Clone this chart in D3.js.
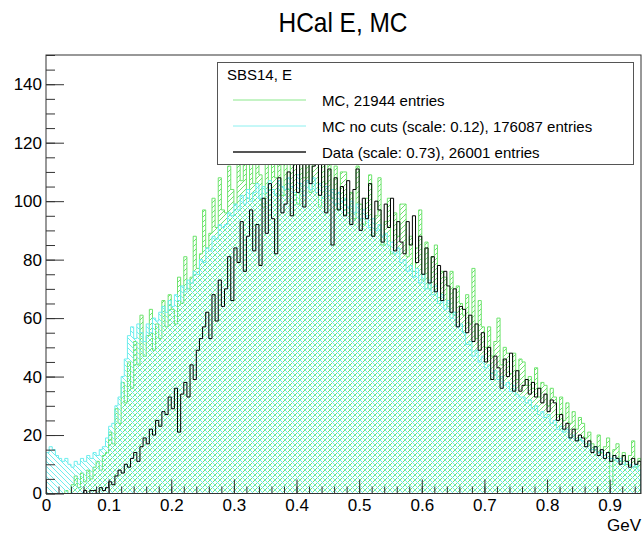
<!DOCTYPE html>
<html>
<head>
<meta charset="utf-8">
<script src="https://cdn.jsdelivr.net/npm/d3@7"></script>
<style>
  html, body { margin: 0; padding: 0; background: #fff; }
  svg { display: block; font-family: "Liberation Sans", Arial, Helvetica, sans-serif; }
</style>
</head>
<body>
<svg id="chart" width="643" height="540"></svg>
<script>
// HCal energy spectra, SBS14: 190 bins of 5 MeV from 0 to 0.95 GeV
const binWidth = 0.005;
const xMax = 0.95;
const yMax = 150;

const xTickValues = [0, 0.1, 0.2, 0.3, 0.4, 0.5, 0.6, 0.7, 0.8, 0.9];
const yTickValues = [0, 20, 40, 60, 80, 100, 120, 140];

const legendTitle = "SBS14, E";
const seriesLabels = [
  "MC, 21944 entries",
  "MC no cuts (scale: 0.12), 176087 entries",
  "Data (scale: 0.73), 26001 entries"
];

// MC with cuts
const mcCounts = [
  0,0,0,0,0,0,1,0,3,6,2,7,4,8,5,9,11,8,13,
  14,21,17,29,24,38,31,45,36,52,44,61,47,54,63,49,58,53,66,
  57,68,63,58,74,65,81,70,74,88,77,82,97,84,89,101,91,108,97,
  96,112,104,99,117,107,120,101,114,106,123,109,98,118,104,126,108,115,102,
  120,104,113,124,99,117,108,128,103,114,119,98,116,106,122,101,112,97,110,
  110,96,103,94,112,99,92,101,109,88,95,108,85,93,101,82,96,88,99,
  99,81,88,76,84,97,73,86,70,81,85,67,76,74,64,76,61,71,65,
  61,68,58,77,53,66,57,50,57,47,52,60,44,50,48,41,48,39,46,
  45,37,40,36,43,33,38,37,30,36,33,27,33,25,31,24,28,22,26,
  24,19,21,17,15,20,14,16,19,3,15,17,11,14,10,13,18,9,12
];

// MC without cuts, scaled by 0.12
const mcNoCutsCounts = [
  14,16,15,13,12,11,12,10,9,11,10,12,11,13,12,14,13,15,16,
  19,23,24,30,33,40,46,54,57,53,58,55,52,58,55,60,59,62,64,
  62,66,64,68,66,71,69,73,72,76,75,80,79,84,83,88,87,92,91,
  92,96,95,99,97,102,99,104,100,103,106,101,105,103,107,104,102,107,105,
  104,108,105,103,109,106,102,107,104,108,103,106,101,105,102,104,99,103,100,
  101,98,100,96,99,94,97,95,91,94,90,92,88,89,85,86,82,84,79,
  80,76,78,74,77,72,75,70,73,68,71,65,68,63,66,60,62,57,58,
  55,51,52,47,49,45,47,43,44,41,42,39,40,37,38,35,37,34,33,
  33,31,32,29,30,27,28,26,27,24,25,22,23,21,22,19,20,18,19,
  18,16,17,15,16,14,15,13,14,12,13,11,12,10,11,10,9,10,8
];

// Data, scaled by 0.73
const dataCounts = [
  0,0,0,0,0,0,0,0,0,0,0,0,1,0,1,1,0,2,1,
  2,4,3,6,8,7,10,9,12,14,11,16,19,17,22,20,25,23,28,
  27,33,29,36,21,34,38,33,44,39,49,53,57,62,53,68,59,73,64,
  70,81,66,84,79,93,76,88,97,83,92,78,101,89,106,94,82,108,96,
  99,110,95,113,103,117,98,119,106,112,121,102,114,96,111,85,108,97,105,
  95,107,92,104,111,90,101,94,106,88,100,97,86,99,91,101,83,93,86,
  82,93,85,95,79,88,75,84,72,81,69,78,66,76,71,62,70,57,64,
  63,55,61,52,58,49,55,45,50,39,47,43,36,46,40,48,35,42,35,
  37,39,34,38,33,36,31,34,28,32,31,25,27,22,24,19,22,18,20,
  19,16,18,14,16,13,15,12,14,11,13,12,10,13,11,9,12,10,11
];

const colors = {
  mc: "#6ee46e",
  mcNoCuts: "#6eeeee",
  data: "#000000"
};

const svg = d3.select("#chart");
const plot = { left: 46, right: 641, top: 55, bottom: 493.5 };

const x = d3.scaleLinear().domain([0, xMax]).range([plot.left, plot.right]);
const y = d3.scaleLinear().domain([0, yMax]).range([plot.bottom, plot.top]);

// hatch fills
const defs = svg.append("defs");
function hatch(id, color, dir) {
  const s = 5;
  const p = defs.append("pattern")
    .attr("id", id)
    .attr("patternUnits", "userSpaceOnUse")
    .attr("width", s).attr("height", s);
  const d = dir > 0
    ? `M-1,1 L1,-1 M0,${s} L${s},0 M${s - 1},${s + 1} L${s + 1},${s - 1}`
    : `M-1,${s - 1} L1,${s + 1} M0,0 L${s},${s} M${s - 1},-1 L${s + 1},1`;
  p.append("path").attr("d", d)
    .attr("stroke", color).attr("stroke-width", 1).attr("fill", "none");
}
hatch("hatch-mc", colors.mc, 1);
hatch("hatch-nocuts", colors.mcNoCuts, -1);

defs.append("clipPath").attr("id", "plot-clip")
  .append("rect")
  .attr("x", plot.left).attr("y", plot.top)
  .attr("width", plot.right - plot.left).attr("height", plot.bottom - plot.top);

function stepPoints(vals) {
  const pts = vals.map((v, i) => [i * binWidth, v]);
  pts.push([vals.length * binWidth, vals[vals.length - 1]]);
  return pts;
}
const area = d3.area()
  .x(d => x(d[0])).y0(y(0)).y1(d => y(d[1]))
  .curve(d3.curveStepAfter);
const outline = d3.line()
  .x(d => x(d[0])).y(d => y(d[1]))
  .curve(d3.curveStepAfter);

const hists = svg.append("g").attr("clip-path", "url(#plot-clip)");

function drawHist(vals, fill, stroke, width) {
  const pts = stepPoints(vals);
  if (fill) {
    hists.append("path").datum(pts).attr("d", area)
      .attr("fill", fill).attr("stroke", "none");
  }
  const linePts = [[0, 0]].concat(pts, [[vals.length * binWidth, 0]]);
  hists.append("path").datum(linePts).attr("d", outline)
    .attr("fill", "none").attr("stroke", stroke).attr("stroke-width", width);
}

drawHist(mcCounts, "url(#hatch-mc)", colors.mc, 1);
drawHist(mcNoCutsCounts, "url(#hatch-nocuts)", colors.mcNoCuts, 1);
drawHist(dataCounts, null, colors.data, 1);

// axes
const axisFont = 17;
const fmtX = d => d === 0 ? "0" : d3.format(".1f")(d);

const xMinor = d3.range(0, 0.9501, 0.02);
svg.append("g")
  .attr("transform", `translate(0,${plot.bottom})`)
  .call(d3.axisBottom(x).tickValues(xMinor).tickSizeInner(-7).tickSizeOuter(0).tickFormat(""))
  .call(g => g.select(".domain").remove())
  .call(g => g.selectAll("line").attr("stroke", "#333"));

svg.append("g")
  .attr("transform", `translate(0,${plot.bottom})`)
  .call(d3.axisBottom(x).tickValues(xTickValues).tickSizeInner(-14).tickSizeOuter(0)
    .tickPadding(5).tickFormat(fmtX))
  .call(g => g.select(".domain").remove())
  .call(g => g.selectAll("line").attr("stroke", "#333"))
  .call(g => g.selectAll("text").attr("font-size", axisFont).attr("fill", "#000")
    .attr("font-family", "Liberation Sans, Arial, sans-serif"));

const yMinor = d3.range(0, 150.1, 5);
svg.append("g")
  .attr("transform", `translate(${plot.left},0)`)
  .call(d3.axisLeft(y).tickValues(yMinor).tickSizeInner(-9).tickSizeOuter(0).tickFormat(""))
  .call(g => g.select(".domain").remove())
  .call(g => g.selectAll("line").attr("stroke", "#333"));

svg.append("g")
  .attr("transform", `translate(${plot.left},0)`)
  .call(d3.axisLeft(y).tickValues(yTickValues).tickSizeInner(-18).tickSizeOuter(0)
    .tickPadding(4).tickFormat(d3.format("d")))
  .call(g => g.select(".domain").remove())
  .call(g => g.selectAll("line").attr("stroke", "#333"))
  .call(g => g.selectAll("text").attr("font-size", axisFont).attr("fill", "#000")
    .attr("font-family", "Liberation Sans, Arial, sans-serif"));

// frame
svg.append("rect")
  .attr("x", plot.left).attr("y", plot.top)
  .attr("width", plot.right - plot.left).attr("height", plot.bottom - plot.top)
  .attr("fill", "none").attr("stroke", "#333").attr("stroke-width", 1);

// axis title
svg.append("text")
  .attr("x", plot.right).attr("y", 531)
  .attr("text-anchor", "end")
  .attr("font-size", axisFont)
  .text("GeV");

// chart title
svg.append("text")
  .attr("x", 343).attr("y", 32)
  .attr("text-anchor", "middle")
  .attr("font-size", 28)
  .attr("textLength", 129)
  .attr("lengthAdjust", "spacingAndGlyphs")
  .text("HCal E, MC");

// legend
const legend = svg.append("g");
legend.append("rect")
  .attr("x", 217.5).attr("y", 62.5).attr("width", 416).attr("height", 102)
  .attr("fill", "#fff").attr("stroke", "#555").attr("stroke-width", 1);
legend.append("text")
  .attr("x", 227).attr("y", 80)
  .attr("font-size", 15)
  .text(legendTitle);

const legendRows = [
  { label: seriesLabels[0], color: "#8be88b", width: 1 },
  { label: seriesLabels[1], color: "#8cf0f0", width: 1 },
  { label: seriesLabels[2], color: "#555555", width: 2 }
];
const rowY = [100, 126, 152];
legendRows.forEach((r, i) => {
  legend.append("line")
    .attr("x1", 233).attr("x2", 306)
    .attr("y1", rowY[i]).attr("y2", rowY[i])
    .attr("stroke", r.color).attr("stroke-width", r.width);
  legend.append("text")
    .attr("x", 322).attr("y", rowY[i] + 5.5)
    .attr("font-size", 15)
    .text(r.label);
});
</script>
</body>
</html>
